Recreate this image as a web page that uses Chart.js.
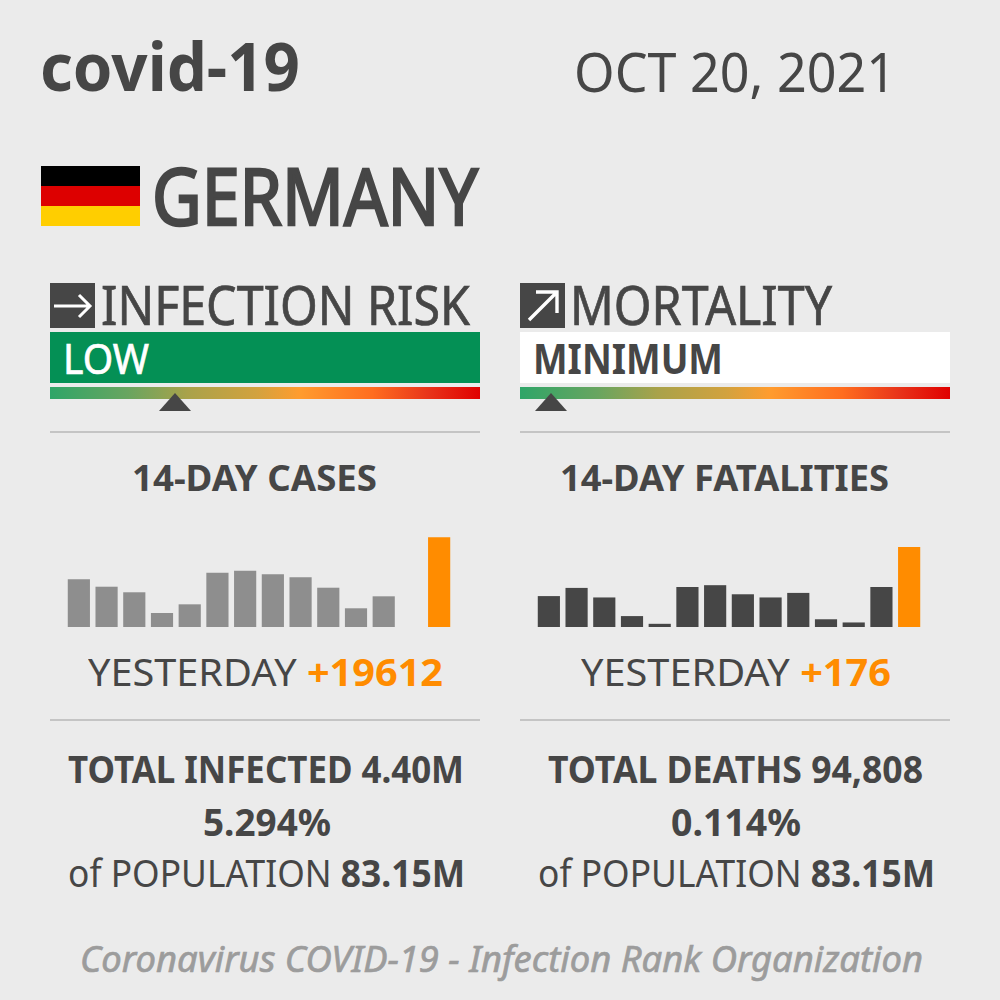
<!DOCTYPE html>
<html>
<head>
<meta charset="utf-8">
<script src="https://cdn.jsdelivr.net/npm/chart.js@4"></script>
<style>
html,body{margin:0;padding:0;}
body{width:1000px;height:1000px;background:#ebebeb;position:relative;overflow:hidden;
  font-family:"Noto Sans",sans-serif;color:#464646;}
.t{position:absolute;white-space:nowrap;line-height:1;transform-origin:0 50%;}
.tight{line-height:.8;}
.b{font-weight:700;}
.m{-webkit-text-stroke:.7px currentColor;}
.g{-webkit-text-stroke:2.5px currentColor;}
.o{color:#ff8c00;font-weight:700;}
.box{position:absolute;}
.scale{position:absolute;top:387px;height:12px;width:430px;
  background:linear-gradient(90deg,#2fa568 0%,#68a560 18%,#a9a24a 32%,#d2a23e 48%,#ff9c2e 58%,#ff6d1f 75%,#e8341a 88%,#e00000 100%);}
.rule{position:absolute;height:2px;width:430px;background:#c4c4c4;}
.tri{position:absolute;top:393px;width:0;height:0;border-left:16px solid transparent;border-right:16px solid transparent;border-bottom:18px solid #464646;}
canvas{position:absolute;}
</style>
</head>
<body>

<div class="t b" data-w="260" style="left:40px;top:32px;font-size:66px">covid-19</div>
<div class="t" data-w="322" style="left:574px;top:44px;font-size:54px">OCT 20, 2021</div>

<div class="box" style="left:41px;top:166px;width:99px;height:20px;background:#000"></div>
<div class="box" style="left:41px;top:186px;width:99px;height:20px;background:#dd0000"></div>
<div class="box" style="left:41px;top:206px;width:99px;height:20px;background:#ffce00"></div>
<div class="t g" data-w="326" style="left:152px;top:156px;font-size:78px">GERMANY</div>

<svg class="box" style="left:50px;top:283px" width="45" height="45">
  <rect width="45" height="45" fill="#464646"/>
  <path d="M4 23H39M29 12L40 23L29 34" fill="none" stroke="#fff" stroke-width="3"/>
</svg>
<div class="t tight m" data-w="369" style="left:101px;top:283px;font-size:54px">INFECTION RISK</div>
<div class="box" style="left:50px;top:332px;width:430px;height:51px;background:#049055"></div>
<div class="t tight m" data-w="86" style="left:63px;top:341px;font-size:42px;color:#fff">LOW</div>
<div class="scale" style="left:50px"></div>
<div class="tri" style="left:159px"></div>
<div class="rule" style="left:50px;top:431px"></div>

<svg class="box" style="left:520px;top:283px" width="45" height="45">
  <rect width="45" height="45" fill="#464646"/>
  <path d="M9 37L36 10M16 9H37V30" fill="none" stroke="#fff" stroke-width="3.4"/>
</svg>
<div class="t tight m" data-w="262" style="left:570px;top:283px;font-size:54px">MORTALITY</div>
<div class="box" style="left:520px;top:332px;width:430px;height:51px;background:#fff"></div>
<div class="t tight b" data-w="190" style="left:533px;top:341px;font-size:42px">MINIMUM</div>
<div class="scale" style="left:520px"></div>
<div class="tri" style="left:535px"></div>
<div class="rule" style="left:520px;top:431px"></div>

<div class="t b" data-w="245" style="left:132px;top:460px;font-size:36px">14-DAY CASES</div>
<div class="t b" data-w="329" style="left:560px;top:460px;font-size:36px">14-DAY FATALITIES</div>

<canvas id="casesChart" style="left:65px;top:530px" width="388" height="97"></canvas>
<canvas id="deathsChart" style="left:535px;top:530px" width="388" height="97"></canvas>

<div class="t" data-w="355" style="left:88px;top:652px;font-size:38px">YESTERDAY <span class="o">+19612</span></div>
<div class="t" data-w="310" style="left:581px;top:652px;font-size:38px">YESTERDAY <span class="o">+176</span></div>
<div class="rule" style="left:50px;top:719px"></div>
<div class="rule" style="left:520px;top:719px"></div>

<div class="t b" data-w="396" style="left:68px;top:749px;font-size:38px">TOTAL INFECTED 4.40M</div>
<div class="t b" data-w="128" style="left:203px;top:802px;font-size:38px">5.294%</div>
<div class="t" data-w="397" style="left:68px;top:853px;font-size:38px">of POPULATION <span class="b">83.15M</span></div>

<div class="t b" data-w="375" style="left:548px;top:749px;font-size:38px">TOTAL DEATHS 94,808</div>
<div class="t b" data-w="130" style="left:671px;top:802px;font-size:38px">0.114%</div>
<div class="t" data-w="397" style="left:538px;top:853px;font-size:38px">of POPULATION <span class="b">83.15M</span></div>

<div class="t m" data-w="843" style="left:80px;top:941px;font-size:36px;font-style:italic;color:#9c9c9c">Coronavirus COVID-19 - Infection Rank Organization</div>

<script>
let days = ["1","2","3","4","5","6","7","8","9","10","11","12","13","14"];
let casesValues = [10430,8810,7590,3060,4960,11870,12310,11520,10860,8590,4090,6710,null,19612];
let deathsValues = [68,86,65,24,7,88,92,72,65,75,17,10,88,176];
let casesMax = 21208;
let deathsMax = 213.4;

function barColors(values,color){
   /* last day is always the orange one */
   return values.map((v,i)=> i === values.length-1 ? "#ff8c00" : color);
}

function generateBarChart(id,values,color,max){
   new Chart(document.getElementById(id).getContext("2d"),{
      type:"bar",
      data:{
         labels:days,
         datasets:[{
            data:values,
            backgroundColor:barColors(values,color),
            barPercentage:0.8,
            categoryPercentage:1
         }]
      },
      options:{
         responsive:false,
         animation:false,
         devicePixelRatio:1,
         layout:{padding:0},
         plugins:{legend:{display:false},tooltip:{enabled:false}},
         scales:{
            x:{display:false},
            y:{display:false,min:0,max:max}
         }
      }
   });
}

generateBarChart("casesChart",casesValues,"#8e8e8e",casesMax);
generateBarChart("deathsChart",deathsValues,"#464646",deathsMax);

/* squeeze text to the measured widths, the installed fonts are wider */
document.querySelectorAll(".t").forEach(function(el){
   let w = el.getBoundingClientRect().width;
   el.style.transform = "scaleX("+(parseFloat(el.dataset.w)/w)+")";
});
</script>
</body>
</html>
